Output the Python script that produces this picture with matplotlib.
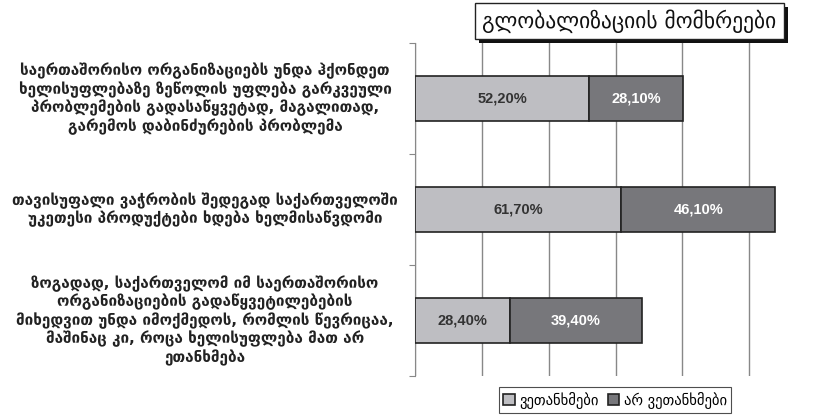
import matplotlib
matplotlib.use("Agg")
import matplotlib.pyplot as plt
from matplotlib import font_manager
from matplotlib.patches import Rectangle

plt.rcParams['font.family'] = ['DejaVu Sans']

# data
categories = [
    "საერთაშორისო ორგანიზაციებს უნდა ჰქონდეთ\nხელისუფლებაზე ზეწოლის უფლება გარკვეული\nპრობლემების გადასაწყვეტად, მაგალითად,\nგარემოს დაბინძურების პრობლემა",
    "თავისუფალი ვაჭრობის შედეგად საქართველოში\nუკეთესი პროდუქტები ხდება ხელმისაწვდომი",
    "ზოგადად, საქართველომ იმ საერთაშორისო\nორგანიზაციების გადაწყვეტილებების\nმიხედვით უნდა იმოქმედოს, რომლის წევრიცაა,\nმაშინაც კი, როცა ხელისუფლება მათ არ\nეთანხმება",
]
agree = [52.2, 61.7, 28.4]
disagree = [28.1, 46.1, 39.4]
series_names = ["ვეთანხმები", "არ ვეთანხმები"]
title = "გლობალიზაციის მომხრეები"

light = "#bebec2"
dark = "#77777b"

# Arial-like bold for the values (avoid the Narrow variant)
val_font = font_manager.FontProperties(family="DejaVu Sans", weight="bold", size=9)
for f in font_manager.fontManager.ttflist:
    if f.name == "Liberation Sans" and f.weight in (700, "bold") and f.style == "normal" \
            and "Narrow" not in f.fname:
        val_font = font_manager.FontProperties(fname=f.fname, size=10.5)
        break

fig = plt.figure(figsize=(8.16, 4.15), dpi=100)
W, H = 816, 415
ax = fig.add_axes([415 / W, 1 - 376 / H, 401 / W, 333 / H])

y = list(range(len(categories)))
b1 = ax.barh(y, agree, height=0.41, color=light, edgecolor="#222222", linewidth=1.2,
             label=series_names[0], zorder=3)
b2 = ax.barh(y, disagree, left=agree, height=0.41, color=dark, edgecolor="#222222",
             linewidth=1.2, label=series_names[1], zorder=3)

for i in y:
    ax.text(agree[i] / 2, i, f"{agree[i]:.2f}%".replace(".", ","), ha="center", va="center",
            fontproperties=val_font, color="#333333", zorder=4)
    ax.text(agree[i] + disagree[i] / 2, i, f"{disagree[i]:.2f}%".replace(".", ","),
            ha="center", va="center", fontproperties=val_font, color="white", zorder=4)

ax.set_xlim(0, 120)
ax.set_ylim(2.5, -0.5)
ax.set_xticks([0, 20, 40, 60, 80, 100])
ax.grid(axis="x", color="#888888", linewidth=1, zorder=0)
ax.tick_params(axis="x", length=0, labelbottom=False)
ax.set_yticks([-0.5, 0.5, 1.5, 2.5])
ax.tick_params(axis="y", length=4, color="#888888", labelleft=False)
for s in ["top", "right", "bottom"]:
    ax.spines[s].set_visible(False)
ax.spines["left"].set_color("#888888")

# category labels
for i, lab in enumerate(categories):
    yy = ax.transData.transform((0, i))[1] / H
    fig.text(205 / W, yy, lab, ha="center", va="center", multialignment="center",
             fontsize=11, fontweight="bold", color="#222222", linespacing=1.15)

# title box with shadow
fig.patches.append(Rectangle((479 / W, 1 - 43 / H), 309 / W, 36 / H, transform=fig.transFigure,
                             facecolor="#111111", edgecolor="none", zorder=1))
fig.patches.append(Rectangle((475 / W, 1 - 39 / H), 309 / W, 36 / H, transform=fig.transFigure,
                             facecolor="white", edgecolor="#222222", linewidth=1, zorder=2))
fig.text(629.5 / W, 1 - 21 / H, title, ha="center", va="center", fontsize=15.5, color="#111111",
         zorder=3)

leg = fig.legend(handles=[b1, b2], loc="center", bbox_to_anchor=(615 / W, 1 - 400 / H),
                 ncol=2, fontsize=10.5, frameon=True, fancybox=False, handlelength=0.8,
                 handleheight=0.8, handletextpad=0.3, columnspacing=0.6, borderpad=0.3)
leg.get_frame().set_edgecolor("#222222")
leg.get_frame().set_linewidth(0.8)

fig.savefig("out.png", dpi=100)
